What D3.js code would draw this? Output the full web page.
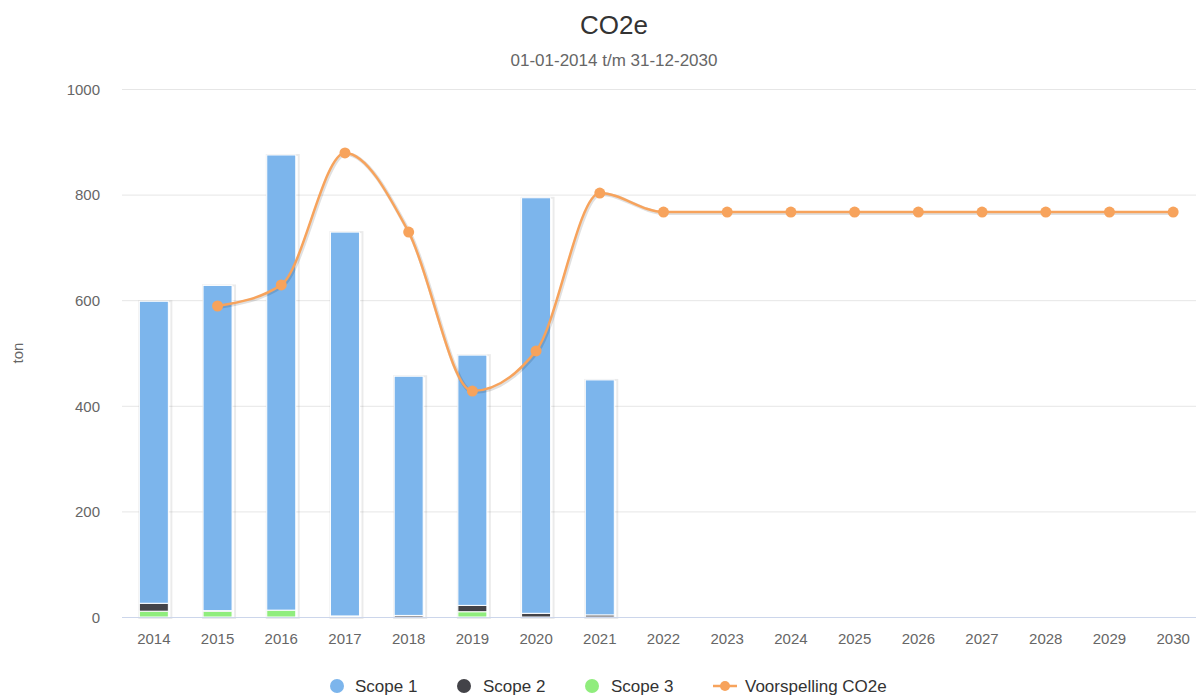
<!DOCTYPE html>
<html><head><meta charset="utf-8">
<script src="https://cdn.jsdelivr.net/npm/d3@7/dist/d3.min.js"></script>
<style>body{margin:0;background:#fff;}svg{display:block;font-family:"Liberation Sans",Arial,sans-serif;}</style>
</head><body>
<svg id="chart" width="1196" height="697"></svg>
<script>
const years = ["2014","2015","2016","2017","2018","2019","2020","2021","2022","2023","2024","2025","2026","2027","2028","2029","2030"];
const scope1 = [572, 616, 862, 727, 453, 474, 787, 445, 0, 0, 0, 0, 0, 0, 0, 0, 0];
const scope2 = [15, 1, 0, 0, 3, 12, 7, 4, 0, 0, 0, 0, 0, 0, 0, 0, 0];
const scope3 = [11, 11, 13, 2, 0, 10, 0, 0, 0, 0, 0, 0, 0, 0, 0, 0, 0];
const forecast = [null, 589, 629, 879, 729, 428, 504, 803, 767, 767, 767, 767, 767, 767, 767, 767, 767];
const yTicks = [0, 200, 400, 600, 800, 1000];
const seriesNames = ["Scope 1", "Scope 2", "Scope 3", "Voorspelling CO2e"];
const colors = {s1:"#7cb5ec", s2:"#434348", s3:"#90ed7d", fc:"#f7a35c"};

const svg = d3.select("#chart");
const x = d3.scaleBand().domain(years).range([122, 1205]).padding(0);
const y = d3.scaleLinear().domain([0, 1000]).range([617, 89]);

// title
svg.append("text").attr("x", 614).attr("y", 34).attr("text-anchor","middle")
  .attr("font-size", 26).attr("fill","#333").text("CO2e");
svg.append("text").attr("x", 614).attr("y", 66).attr("text-anchor","middle")
  .attr("font-size", 17).attr("fill","#666").text("01-01-2014 t/m 31-12-2030");

// grid
const yAxis = d3.axisLeft(y).tickValues(yTicks).tickSize(0).tickPadding(0).tickFormat(d3.format("d"));
const gy = svg.append("g").attr("transform","translate(100,0)").call(yAxis);
gy.select(".domain").remove();
gy.selectAll("text").attr("font-size",15).attr("fill","#666").attr("font-family","Liberation Sans, Arial, sans-serif").attr("dy","0.35em");
svg.append("g").selectAll("line").data(yTicks.filter(d=>d>0)).join("line")
  .attr("x1",122).attr("x2",1196).attr("y1",d=>y(d)+0.5).attr("y2",d=>y(d)+0.5)
  .attr("stroke","#e6e6e6").attr("stroke-width",1);

svg.append("text").attr("transform","translate(23,353) rotate(-90)").attr("text-anchor","middle")
  .attr("font-size",15).attr("fill","#666").text("ton");

// bars stacked: scope3 bottom, scope2, scope1 top
const stackData = years.map((yr,i)=>({yr, s3:scope3[i], s2:scope2[i], s1:scope1[i]}));
const stack = d3.stack().keys(["s3","s2","s1"])(stackData);
const bw = 29;
const barsG = svg.append("g");
barsG.selectAll("rect.sh").data(stackData.filter(d=>d.s1+d.s2+d.s3>0)).join("rect")
  .attr("class","sh")
  .attr("x",d=>x(d.yr)+x.bandwidth()/2-bw/2-1)
  .attr("y",d=>y(d.s1+d.s2+d.s3)-1)
  .attr("width",bw+3).attr("height",d=>y(0)-y(d.s1+d.s2+d.s3)+1)
  .attr("fill","none").attr("stroke","#000").attr("stroke-opacity",0.08).attr("stroke-width",2)
  .attr("transform","translate(1,1)");
stack.forEach(layer=>{
  barsG.append("g").selectAll("rect").data(layer.filter(d=>d[1]-d[0]>0)).join("rect")
    .attr("x",d=>x(d.data.yr)+x.bandwidth()/2-bw/2)
    .attr("y",d=>y(d[1]))
    .attr("width",bw)
    .attr("height",d=>y(d[0])-y(d[1]))
    .attr("fill",colors[layer.key])
    .attr("stroke","#fff").attr("stroke-width",1);
});

// x axis line
svg.append("line").attr("x1",122).attr("x2",1196).attr("y1",617.5).attr("y2",617.5)
  .attr("stroke","#ccd6eb").attr("stroke-width",1);
const xAxis = d3.axisBottom(x).tickSize(0).tickPadding(0);
const gx = svg.append("g").attr("transform","translate(0,633)").call(xAxis);
gx.select(".domain").remove();
gx.selectAll("text").attr("font-size",15).attr("fill","#666").attr("font-family","Liberation Sans, Arial, sans-serif").attr("dy","0.71em");

// forecast spline
const fcData = years.map((yr,i)=>({yr, v:forecast[i]})).filter(d=>d.v!=null);
const line = d3.line().x(d=>x(d.yr)+x.bandwidth()/2).y(d=>y(d.v)).curve(d3.curveMonotoneX);
svg.append("path").datum(fcData).attr("d",line).attr("fill","none")
  .attr("stroke","#000").attr("stroke-opacity",0.12).attr("stroke-width",4).attr("transform","translate(1,1)");
svg.append("path").datum(fcData).attr("d",line).attr("fill","none")
  .attr("stroke",colors.fc).attr("stroke-width",2.5);
svg.append("g").selectAll("circle").data(fcData).join("circle")
  .attr("cx",d=>x(d.yr)+x.bandwidth()/2).attr("cy",d=>y(d.v)).attr("r",5.5)
  .attr("fill",colors.fc);

// legend
const lg = svg.append("g").attr("font-size",17).attr("fill","#333");
const legendItems = [
  {name:seriesNames[0], c:colors.s1, sx:337, tx:355, type:"dot"},
  {name:seriesNames[1], c:colors.s2, sx:464, tx:483, type:"dot"},
  {name:seriesNames[2], c:colors.s3, sx:592, tx:611, type:"dot"},
  {name:seriesNames[3], c:colors.fc, sx:725, tx:745, type:"line"}
];
legendItems.forEach(it=>{
  if(it.type==="dot"){
    lg.append("circle").attr("cx",it.sx).attr("cy",686).attr("r",7).attr("fill",it.c);
  } else {
    lg.append("line").attr("x1",it.sx-12).attr("x2",it.sx+12).attr("y1",686).attr("y2",686).attr("stroke",it.c).attr("stroke-width",2.5);
    lg.append("circle").attr("cx",it.sx).attr("cy",686).attr("r",5).attr("fill",it.c);
  }
  lg.append("text").attr("x",it.tx).attr("y",692).attr("fill","#333").text(it.name);
});
</script>
</body></html>
